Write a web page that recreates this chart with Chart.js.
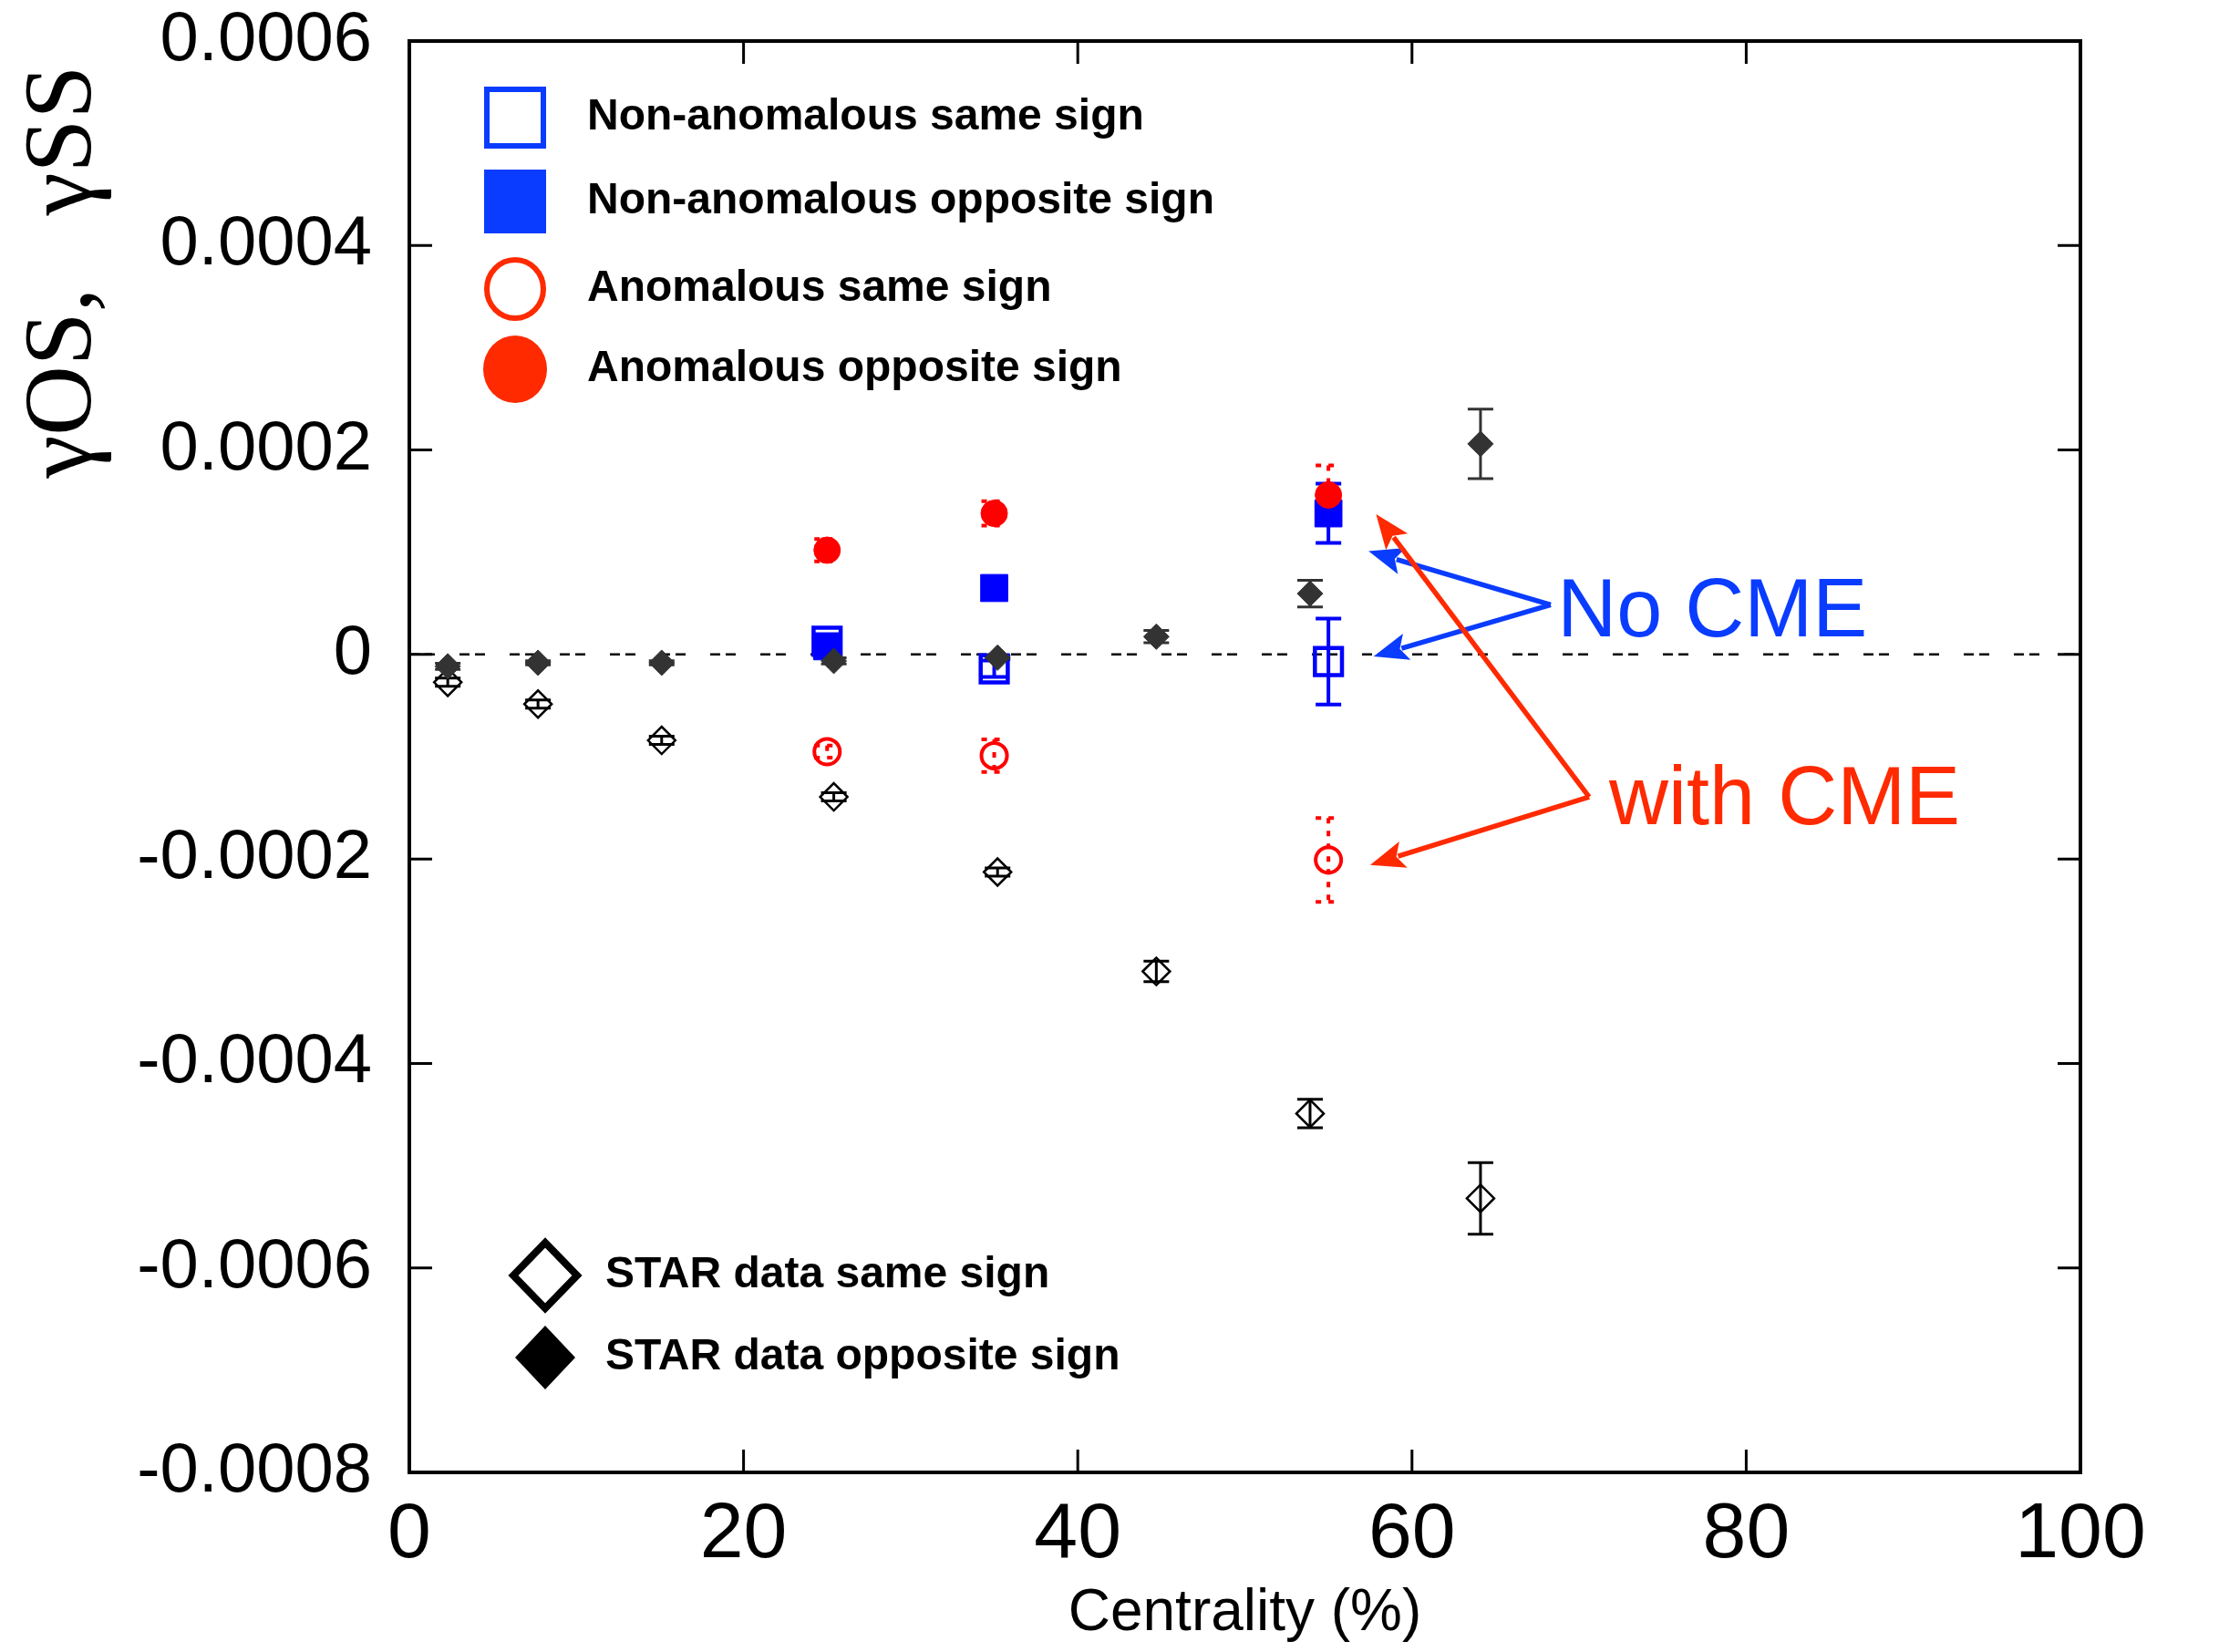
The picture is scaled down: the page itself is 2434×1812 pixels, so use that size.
<!DOCTYPE html>
<html>
<head>
<meta charset="utf-8">
<script src="https://cdn.jsdelivr.net/npm/chart.js@4"></script>
<style>
  html, body { margin: 0; padding: 0; background: #fff; }
  canvas { display: block; }
</style>
</head>
<body>
<canvas id="myChart" width="2434" height="1812"></canvas>
<script>
const ctx = document.getElementById('myChart');

// model points (centrality %)
const modelCentrality = [25, 35, 55];
const nonAnomSame    = [0.000013, -0.000014, -0.000007];
const nonAnomSameErr = [0.000003, 0.000008, 0.000042];
const nonAnomOpp     = [0.000008, 0.000065, 0.000138];
const nonAnomOppErr  = [0.000002, 0.000003, 0.000029];
const anomSame       = [-0.000095, -0.000099, -0.000201];
const anomSameErr    = [0.000006, 0.000016, 0.000041];
const anomOpp        = [0.000102, 0.000138, 0.000156];
const anomOppErr     = [0.000011, 0.000012, 0.000029];

// STAR data
const starCentrality = [2.3, 7.7, 15.1, 25.4, 35.2, 44.7, 53.9, 64.1];
const starSame    = [-0.0000272, -0.0000485, -0.000084, -0.0001393, -0.0002128, -0.00031, -0.000449, -0.000532];
const starSameErr = [0.000004, 0.000004, 0.000004, 0.000004, 0.000004, 0.00001, 0.000014, 0.000035];
const starOpp     = [-0.0000116, -0.0000081, -0.0000081, -0.0000063, -0.0000031, 0.0000174, 0.0000595, 0.000206];
const starOppErr  = [0.000003, 0.000002, 0.000002, 0.000003, 0.000002, 0.000006, 0.000013, 0.000034];

const xTickLabels = ['0', '20', '40', '60', '80', '100'];
const yTickLabels = ['-0.0008', '-0.0006', '-0.0004', '-0.0002', '0', '0.0002', '0.0004', '0.0006'];

const legendTop = ['Non-anomalous same sign', 'Non-anomalous opposite sign', 'Anomalous same sign', 'Anomalous opposite sign'];
const legendStar = ['STAR data same sign', 'STAR data opposite sign'];

// annotations in data units
const noCmeText = ['No CME', 68.7, 0.000018];
const noCmeFrom = [68.3, 0.0000485];
const noCmeTo = [[57.4, 0.000101], [57.7, -0.000002]];
const withCmeText = ['with CME', 71.8, -0.0001662];
const withCmeFrom = [70.6, -0.0001393];
const withCmeTo = [[57.85, 0.0001373], [57.5, -0.0002058]];

const BLUE = '#0000ff', RED = '#ff0000', DARK = '#333333';
const ABLUE = '#0a3cff', ARED = '#ff2a00';

function pts(xs, ys) {
  return xs.map((x, i) => ({x: x, y: ys[i]}));
}

function arrow(c, x1, y1, x2, y2, color) {
  const ang = Math.atan2(y2 - y1, x2 - x1);
  const L = 38, W = 15;
  const bx = x2 - L * Math.cos(ang), by = y2 - L * Math.sin(ang);
  c.strokeStyle = color;
  c.fillStyle = color;
  c.lineWidth = 5.5;
  c.beginPath();
  c.moveTo(x1, y1);
  c.lineTo(bx + 6 * Math.cos(ang), by + 6 * Math.sin(ang));
  c.stroke();
  c.beginPath();
  c.moveTo(x2, y2);
  c.lineTo(bx - W * Math.sin(ang), by + W * Math.cos(ang));
  c.lineTo(bx + 8 * Math.cos(ang), by + 8 * Math.sin(ang));
  c.lineTo(bx + W * Math.sin(ang), by - W * Math.cos(ang));
  c.closePath();
  c.fill();
}

const extras = {
  id: 'extras',
  beforeDatasetsDraw(chart) {
    const c = chart.ctx, a = chart.chartArea, xs = chart.scales.x, ys = chart.scales.y;
    c.save();
    c.strokeStyle = '#000';
    c.lineWidth = 2.5;
    c.setLineDash([11, 6, 11, 27]);
    const y0 = ys.getPixelForValue(0);
    c.beginPath();
    c.moveTo(a.left, y0);
    c.lineTo(a.right, y0);
    c.stroke();
    c.restore();

    chart.data.datasets.forEach(ds => {
      if (!ds.errors) return;
      c.save();
      c.strokeStyle = ds.errColor;
      c.lineWidth = ds.errWidth;
      c.setLineDash(ds.errDash || []);
      ds.data.forEach((p, i) => {
        const px = xs.getPixelForValue(p.x);
        const top = ys.getPixelForValue(p.y + ds.errors[i]);
        const bot = ys.getPixelForValue(p.y - ds.errors[i]);
        c.beginPath();
        c.moveTo(px, top); c.lineTo(px, bot);
        c.moveTo(px - 14, top); c.lineTo(px + 14, top);
        c.moveTo(px - 14, bot); c.lineTo(px + 14, bot);
        c.stroke();
      });
      c.restore();
    });
  },
  afterDraw(chart) {
    const c = chart.ctx, a = chart.chartArea, xs = chart.scales.x, ys = chart.scales.y;
    c.save();
    // frame and inward ticks
    c.strokeStyle = '#000';
    c.lineWidth = 4;
    c.strokeRect(a.left, a.top, a.right - a.left, a.bottom - a.top);
    c.lineWidth = 3;
    c.beginPath();
    xs.ticks.forEach(t => {
      const px = xs.getPixelForValue(t.value);
      c.moveTo(px, a.bottom); c.lineTo(px, a.bottom - 25);
      c.moveTo(px, a.top); c.lineTo(px, a.top + 25);
    });
    ys.ticks.forEach(t => {
      const py = ys.getPixelForValue(t.value);
      c.moveTo(a.left, py); c.lineTo(a.left + 25, py);
      c.moveTo(a.right, py); c.lineTo(a.right - 25, py);
    });
    c.stroke();

    // annotation arrows and texts
    noCmeTo.forEach(t => arrow(c, xs.getPixelForValue(noCmeFrom[0]), ys.getPixelForValue(noCmeFrom[1]),
      xs.getPixelForValue(t[0]), ys.getPixelForValue(t[1]), ABLUE));
    withCmeTo.forEach(t => arrow(c, xs.getPixelForValue(withCmeFrom[0]), ys.getPixelForValue(withCmeFrom[1]),
      xs.getPixelForValue(t[0]), ys.getPixelForValue(t[1]), ARED));
    c.font = '90px "Liberation Sans"';
    c.textAlign = 'left';
    c.textBaseline = 'alphabetic';
    c.fillStyle = ABLUE;
    c.fillText(noCmeText[0], xs.getPixelForValue(noCmeText[1]), ys.getPixelForValue(noCmeText[2]));
    c.fillStyle = ARED;
    c.fillText(withCmeText[0], xs.getPixelForValue(withCmeText[1]), ys.getPixelForValue(withCmeText[2]));

    // legend, top group
    const mx = a.left + 116, tx = a.left + 195;
    const rows = [a.top + 84, a.top + 176, a.top + 272, a.top + 360];
    c.lineWidth = 6;
    c.strokeStyle = ABLUE;
    c.strokeRect(mx - 31, rows[0] - 31, 62, 62);
    c.fillStyle = ABLUE;
    c.fillRect(mx - 34, rows[1] - 35, 68, 70);
    c.strokeStyle = ARED;
    c.beginPath();
    c.ellipse(mx, rows[2], 31, 32, 0, 0, Math.PI * 2);
    c.stroke();
    c.fillStyle = ARED;
    c.beginPath();
    c.ellipse(mx, rows[3], 35, 37, 0, 0, Math.PI * 2);
    c.fill();
    c.font = 'bold 48px "Liberation Sans"';
    c.fillStyle = '#000';
    c.textBaseline = 'middle';
    legendTop.forEach((s, i) => c.fillText(s, tx, rows[i]));

    // legend, STAR group
    const sx = a.left + 149, stx = a.left + 215;
    const srows = [a.top + 1354, a.top + 1444];
    c.strokeStyle = '#000';
    c.lineWidth = 8;
    c.beginPath();
    c.moveTo(sx - 35, srows[0]); c.lineTo(sx, srows[0] - 36);
    c.lineTo(sx + 35, srows[0]); c.lineTo(sx, srows[0] + 36);
    c.closePath();
    c.stroke();
    c.fillStyle = '#000';
    c.beginPath();
    c.moveTo(sx - 33, srows[1]); c.lineTo(sx, srows[1] - 35);
    c.lineTo(sx + 33, srows[1]); c.lineTo(sx, srows[1] + 35);
    c.closePath();
    c.fill();
    legendStar.forEach((s, i) => c.fillText(s, stx, srows[i]));
    c.restore();
  }
};

Chart.defaults.font.family = '"Liberation Sans", Arial, sans-serif';
Chart.defaults.color = '#000';

new Chart(ctx, {
  type: 'scatter',
  data: {
    datasets: [
      {
        label: 'STAR data opposite sign',
        data: pts(starCentrality, starOpp),
        errors: starOppErr, errColor: DARK, errWidth: 3,
        pointStyle: 'rectRot', pointRadius: 14,
        backgroundColor: DARK, borderColor: DARK, borderWidth: 1,
        order: 1
      },
      {
        label: 'STAR data same sign',
        data: pts(starCentrality, starSame),
        errors: starSameErr, errColor: '#000', errWidth: 3,
        pointStyle: 'rectRot', pointRadius: 15,
        backgroundColor: 'rgba(255,255,255,0)', borderColor: '#000', borderWidth: 2.5,
        order: 2
      },
      {
        label: 'Anomalous opposite sign',
        data: pts(modelCentrality, anomOpp),
        errors: anomOppErr, errColor: RED, errWidth: 4, errDash: [6, 8],
        pointStyle: 'circle', pointRadius: 14.5,
        backgroundColor: RED, borderColor: RED, borderWidth: 1,
        order: 3
      },
      {
        label: 'Anomalous same sign',
        data: pts(modelCentrality, anomSame),
        errors: anomSameErr, errColor: RED, errWidth: 4, errDash: [6, 8],
        pointStyle: 'circle', pointRadius: 14,
        backgroundColor: 'rgba(255,255,255,0)', borderColor: RED, borderWidth: 4,
        order: 4
      },
      {
        label: 'Non-anomalous opposite sign',
        data: pts(modelCentrality, nonAnomOpp),
        errors: nonAnomOppErr, errColor: BLUE, errWidth: 4,
        pointStyle: 'rect', pointRadius: 21,
        backgroundColor: BLUE, borderColor: BLUE, borderWidth: 1,
        order: 5
      },
      {
        label: 'Non-anomalous same sign',
        data: pts(modelCentrality, nonAnomSame),
        errors: nonAnomSameErr, errColor: BLUE, errWidth: 4,
        pointStyle: 'rect', pointRadius: 21,
        backgroundColor: 'rgba(255,255,255,0)', borderColor: BLUE, borderWidth: 4.5,
        order: 6
      }
    ]
  },
  options: {
    responsive: false,
    animation: false,
    devicePixelRatio: 1,
    layout: { padding: { left: 0, top: 45, right: 152, bottom: 0 } },
    plugins: {
      legend: { display: false },
      tooltip: { enabled: false }
    },
    scales: {
      x: {
        type: 'linear',
        min: 0, max: 100,
        grid: { display: false, drawTicks: false, tickLength: 0 },
        border: { display: false },
        ticks: {
          stepSize: 20, autoSkip: false, padding: 18,
          font: { size: 86 },
          callback: (v, i) => xTickLabels[i]
        },
        title: {
          display: true, text: 'Centrality (%)',
          font: { size: 64 }, padding: { top: 0, bottom: 3 }
        },
        afterFit: s => { s.height = 197; }
      },
      y: {
        type: 'linear',
        min: -0.0008, max: 0.0006,
        grid: { display: false, drawTicks: false, tickLength: 0 },
        border: { display: false },
        ticks: {
          stepSize: 0.0002, autoSkip: false, padding: 41,
          font: { size: 76 },
          callback: (v, i) => yTickLabels[i]
        },
        title: {
          display: true, text: 'γOS,   γSS ', align: 'end',
          font: { size: 106, family: '"Liberation Serif", serif' },
          padding: { top: 8, bottom: 0 }
        },
        afterFit: s => {
          s.width = 449;
          s.paddingTop = 0;
          s.paddingBottom = 0;
        }
      }
    }
  },
  plugins: [extras]
});
</script>
</body>
</html>
